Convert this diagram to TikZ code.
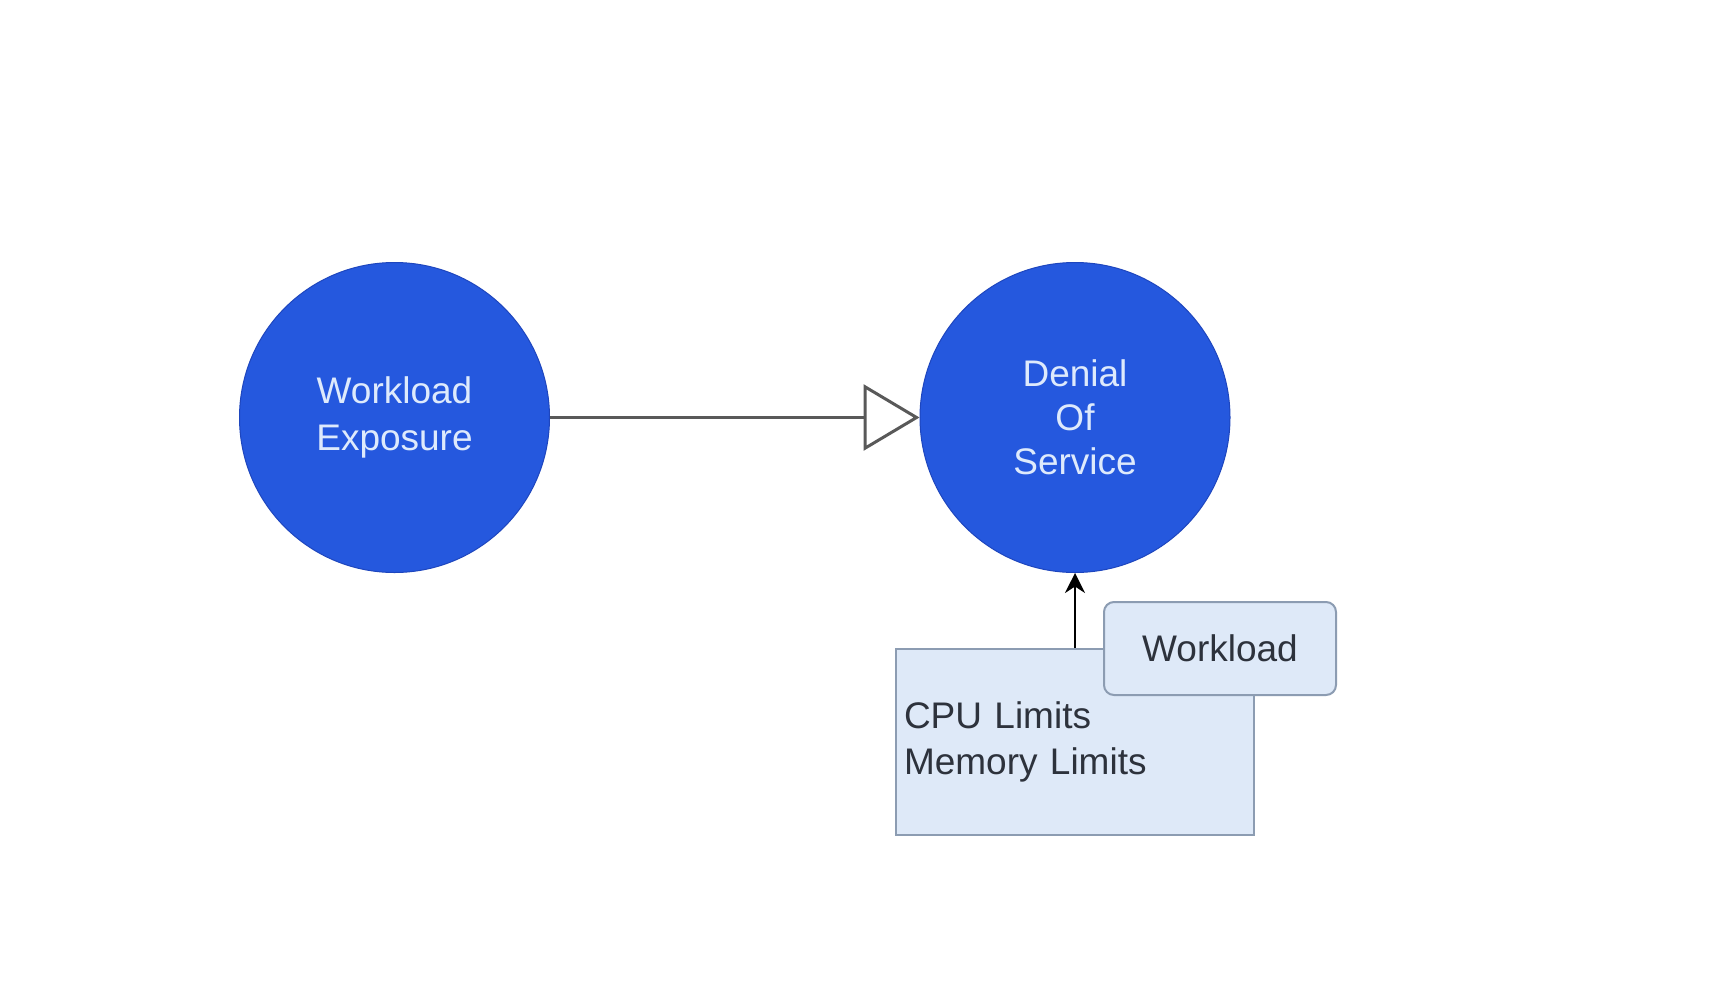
\documentclass[tikz,border=0pt]{standalone}
\usepackage{fontspec}
\setmainfont{Liberation Sans}
\usetikzlibrary{arrows.meta}
\definecolor{cblue}{RGB}{37,88,222}
\definecolor{cblueline}{RGB}{30,70,190}
\definecolor{ctext}{RGB}{222,234,252}
\definecolor{boxfill}{RGB}{222,233,248}
\definecolor{boxline}{RGB}{140,156,178}
\definecolor{dtext}{RGB}{45,50,60}
\tikzset{
  threat/.style={circle, fill=cblue, draw=cblueline, line width=0.5pt, minimum size=155pt, inner sep=0pt,
    text=ctext, align=center, font=\fontsize{18.5}{23.5}\selectfont},
  ctrlbox/.style={rectangle, fill=boxfill, draw=boxline, line width=1pt, minimum height=93pt,
    text width=171pt, inner xsep=4pt, align=left, text=dtext, font=\fontsize{18.5}{23}\selectfont},
  tagbox/.style={rectangle, rounded corners=5pt, fill=boxfill, draw=boxline, line width=1pt,
    minimum width=116pt, minimum height=46.5pt, text=dtext, font=\fontsize{18.5}{23}\selectfont},
  flow/.style={draw=black!65, line width=1.5pt, -{Triangle[open, length=28pt, width=33pt, line width=1.5pt]}},
  mitig/.style={draw=black, line width=1pt, -{Stealth[length=10pt, width=10pt]}}
}
\begin{document}
\begin{tikzpicture}[x=0.5pt, y=-0.5pt]
\useasboundingbox[fill=white] (0,0) rectangle (1714,986);
\node[threat] (we) at (394.5,417.5) {\raisebox{-1.5pt}{\parbox{100pt}{\centering Workload\\Exposure}}};
\node[threat, font=\fontsize{18.5}{22}\selectfont] (dos) at (1075,417.5) {Denial\\Of\\Service};
\draw[flow] (we) -- (dos);
\node[ctrlbox] (lim) at (1075,742) {CPU Limits\\Memory Limits};
\draw[mitig] (lim.north) -- (dos.south);
\node[tagbox] (wl) at (1220,648.5) {Workload};
\end{tikzpicture}
\end{document}
